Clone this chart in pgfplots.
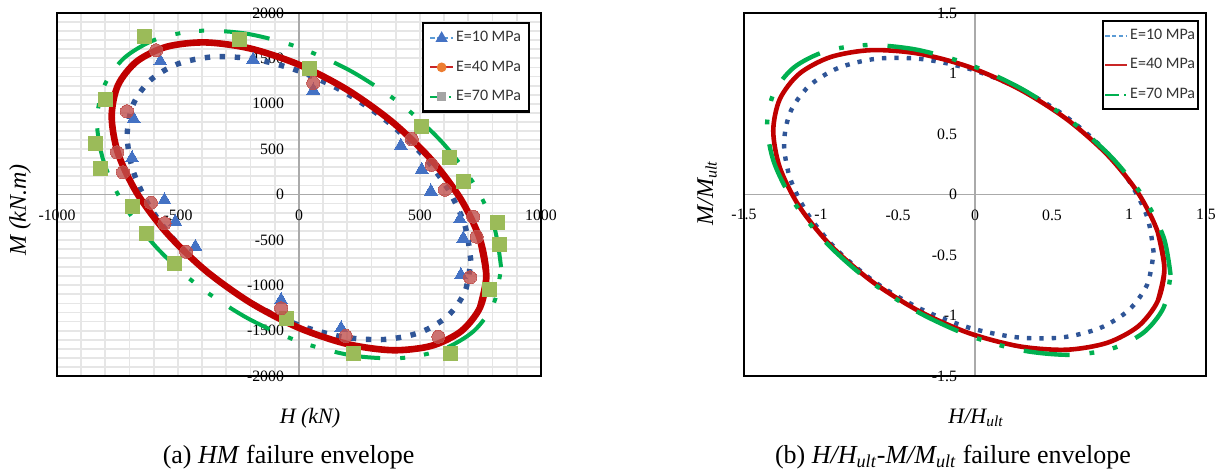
\documentclass[border=0pt]{standalone}
\usepackage{pgfplots}
\pgfplotsset{compat=1.18}
\usepackage{fontspec}
\setmainfont{Liberation Serif}
\newfontfamily\legfont{Carlito}

\definecolor{curveblue}{RGB}{47,85,151}
\definecolor{curvered}{RGB}{192,0,0}
\definecolor{curvegreen}{RGB}{0,176,80}
\definecolor{triblue}{RGB}{68,114,196}
\definecolor{dotred}{RGB}{192,80,77}
\definecolor{sqgreen}{RGB}{155,187,89}
\definecolor{legblue}{RGB}{91,155,213}
\definecolor{legorange}{RGB}{237,125,49}
\definecolor{leggrey}{RGB}{165,165,165}
\definecolor{zeroaxis}{RGB}{170,170,170}
\definecolor{gridgrey}{RGB}{230,230,230}

\pgfplotsset{
  envelope/.style={
    scale only axis,
    axis lines=middle,
    every inner x axis line/.style={-},
    every inner y axis line/.style={-},
    axis line style={draw=zeroaxis, line width=0.8pt},
    major tick length=0pt, minor tick length=0pt,
    hide obscured x ticks=false, hide obscured y ticks=false,
    tick label style={font=\fontsize{7.9}{9}\selectfont, text=black},
    /pgf/number format/assume math mode=true,
    /pgf/number format/1000 sep={},
    xticklabel style={yshift=-4pt},
    yticklabel style={xshift=-4pt},
    legend cell align=left,
    extra description/.code={\draw[black, line width=1.3pt] (0,0) rectangle (1,1);},
  },
  envlegend/.style={
    legend style={draw=black, line width=1.2pt, fill=white,
      font=\legfont\fontsize{8}{9.6}\selectfont, text=black!80,
      row sep=6pt, inner ysep=3pt, nodes={inner sep=1pt}, cells={anchor=west}},
  },
}

\begin{document}
\begin{tikzpicture}
\path[use as bounding box] (0,0) rectangle (611pt,236pt);

% ---------------- (a) H-M envelope ----------------
\begin{axis}[envelope, envlegend,
  at={(28.5pt,48pt)}, anchor=south west, width=242pt, height=181.5pt,
  xmin=-1000, xmax=1000, ymin=-2000, ymax=2000,
  xtick={-1000,-500,...,1000}, ytick={-2000,-1500,...,2000},
  minor x tick num=4, minor y tick num=4,
  grid=both, grid style={gridgrey, line width=0.9pt},
  minor grid style={gridgrey, line width=0.9pt},
  legend style={at={(0.754,0.975)}, anchor=north west, inner xsep=3pt},
]
% legend
\addlegendimage{legend image code/.code={
  \draw[legblue, line width=1pt, dash pattern=on 2.2pt off 1.2pt] (0pt,0pt) -- (11.5pt,0pt);
  \fill[triblue] (5.75pt,2.2pt) -- (3.7pt,-1.4pt) -- (7.8pt,-1.4pt) -- cycle;}}
\addlegendentry{E=10 MPa}
\addlegendimage{legend image code/.code={
  \draw[curvered!85!white, line width=1pt] (0pt,0pt) -- (11.5pt,0pt);
  \fill[legorange] (5.75pt,0pt) circle (1.8pt);}}
\addlegendentry{E=40 MPa}
\addlegendimage{legend image code/.code={
  \draw[curvegreen, line width=1pt] (0pt,0pt) -- (4pt,0pt);
  \draw[curvegreen, line width=1pt] (9.5pt,0pt) -- (10.5pt,0pt);
  \fill[leggrey] (4pt,-1.7pt) rectangle (7.4pt,1.7pt);}}
\addlegendentry{E=70 MPa}

% measured points, E = 10 MPa
\addplot[only marks, triblue, mark=triangle*, mark size=3.7pt,
  mark options={draw=triblue, fill=triblue, line width=0pt}, forget plot] coordinates {
  (-573,1468) (-190,1486) (59,1148) (-683,832) (-690,402)
  (-556,-61) (-511,-300) (-428,-575) (-74,-1163) (174,-1474)
  (421,538) (507,273) (545,35) (665,-273) (679,-483) (669,-887)
};
% measured points, E = 70 MPa
\addplot[only marks, sqgreen, mark=square*, mark size=3.5pt,
  mark options={draw=sqgreen, fill=sqgreen, line width=0pt}, forget plot] coordinates {
  (-639,1743) (-244,1706) (45,1394) (-800,1052) (-842,560) (-821,292)
  (-690,-134) (-631,-428) (-515,-758) (-51,-1364) (224,-1750)
  (507,751) (620,413) (679,145) (821,-310) (830,-556) (789,-1052) (624,-1750)
};
% measured points, E = 40 MPa
\addplot[only marks, dotred, mark=*, mark size=3.3pt,
  mark options={draw=dotred, fill=dotred, line width=0pt, opacity=0.8}, forget plot] coordinates {
  (-590,1589) (59,1229) (-711,917) (-752,465) (-727,245)
  (-612,-90) (-556,-317) (-466,-630) (-74,-1254) (193,-1559)
  (466,611) (548,328) (603,53) (720,-244) (734,-465) (707,-912) (576,-1567)
};

% fitted envelopes
\addplot[curveblue, smooth, line width=2.7pt, dash pattern=on 2.7pt off 4.8pt, forget plot] coordinates {
  (710,-730) (686,-344) (615,63) (502,462) (355,827) (184,1134) (0,1360)
  (-184,1491) (-355,1517) (-502,1438) (-615,1258) (-686,989) (-710,650)
  (-686,264) (-615,-143) (-502,-542) (-355,-907) (-184,-1214) (0,-1440)
  (184,-1571) (355,-1597) (502,-1518) (615,-1338) (686,-1069) (710,-730)
};
\addplot[curvered, smooth, line width=3.3pt, line join=round, forget plot] coordinates {
  (748,-1245) (774,-900) (748,-495) (670,-57) (547,383) (387,796) (200,1153)
  (0,1430) (-200,1608) (-387,1676) (-547,1628) (-670,1467) (-748,1205)
  (-774,860) (-748,455) (-670,17) (-547,-423) (-387,-836) (-200,-1193)
  (0,-1470) (200,-1648) (387,-1716) (547,-1668) (670,-1507) (748,-1245)
  (774,-900) (748,-495)
};
\addplot[curvegreen, smooth, line width=2pt,
  dash pattern=on 23pt off 10pt on 2.5pt off 9.5pt on 2.5pt off 10pt, forget plot] coordinates {
  (835,-800) (806,-353) (723,117) (590,580) (418,1003) (216,1358) (0,1620)
  (-216,1772) (-418,1803) (-590,1711) (-723,1503) (-806,1192) (-835,800)
  (-806,353) (-723,-117) (-590,-580) (-418,-1003) (-216,-1358) (0,-1620)
  (216,-1772) (418,-1803) (590,-1711) (723,-1503) (806,-1192) (835,-800)
};
\end{axis}

% ---------------- (b) normalised envelope ----------------
\begin{axis}[envelope, envlegend,
  at={(372pt,48pt)}, anchor=south west, width=231pt, height=181.5pt,
  xmin=-1.5, xmax=1.5, ymin=-1.5, ymax=1.5,
  xtick={-1.5,-1,...,1.5}, ytick={-1.5,-1,...,1.5},
  yticklabel style={xshift=-1.5pt},
  legend style={at={(0.775,0.981)}, anchor=north west, inner xsep=0.5pt},
]
\addlegendimage{legend image code/.code={
  \draw[legblue, line width=1pt, dash pattern=on 2.2pt off 1.2pt] (0pt,0pt) -- (11pt,0pt);}}
\addlegendentry{E=10 MPa}
\addlegendimage{legend image code/.code={
  \draw[curvered!85!white, line width=1pt] (0pt,0pt) -- (11pt,0pt);}}
\addlegendentry{E=40 MPa}
\addlegendimage{legend image code/.code={
  \draw[curvegreen, line width=1pt] (0pt,0pt) -- (7pt,0pt);
  \draw[curvegreen, line width=1pt] (9.5pt,0pt) -- (10.5pt,0pt);}}
\addlegendentry{E=70 MPa}

\addplot[curveblue, smooth, line width=2.2pt, dash pattern=on 2.2pt off 4pt, forget plot] coordinates {
  (1.16,-0.48) (1.119,-0.188) (0.999,0.115) (0.809,0.408) (0.56,0.672)
  (0.271,0.887) (-0.04,1.04) (-0.351,1.120) (-0.64,1.122) (-0.889,1.045)
  (-1.079,0.895) (-1.199,0.682) (-1.24,0.42) (-1.199,0.128) (-1.079,-0.175)
  (-0.889,-0.468) (-0.64,-0.732) (-0.351,-0.947) (-0.04,-1.10) (0.271,-1.180)
  (0.56,-1.182) (0.809,-1.105) (0.999,-0.955) (1.119,-0.742) (1.16,-0.48)
};
\addplot[curvered, smooth, line width=2.3pt, line join=round, forget plot] coordinates {
  (1.187,-0.880) (1.23,-0.615) (1.187,-0.311) (1.060,0.011) (0.858,0.330)
  (0.595,0.623) (0.289,0.870) (-0.04,1.055) (-0.369,1.165) (-0.675,1.193)
  (-0.938,1.136) (-1.140,0.999) (-1.267,0.790) (-1.31,0.525) (-1.267,0.221)
  (-1.140,-0.101) (-0.938,-0.420) (-0.675,-0.713) (-0.369,-0.960) (-0.04,-1.145)
  (0.289,-1.255) (0.595,-1.283) (0.858,-1.226) (1.060,-1.089) (1.187,-0.880)
  (1.23,-0.615) (1.187,-0.311)
};
\addplot[curvegreen, smooth, line width=2.2pt,
  dash pattern=on 23pt off 10pt on 2.4pt off 9.5pt on 2.4pt off 10pt, forget plot] coordinates {
  (1.27,-0.665) (1.225,-0.354) (1.094,-0.022) (0.886,0.309) (0.615,0.615)
  (0.299,0.876) (-0.04,1.075) (-0.379,1.197) (-0.695,1.235) (-0.966,1.185)
  (-1.174,1.052) (-1.305,0.844) (-1.35,0.575) (-1.305,0.264) (-1.174,-0.068)
  (-0.966,-0.399) (-0.695,-0.705) (-0.379,-0.966) (-0.04,-1.165) (0.299,-1.287)
  (0.615,-1.325) (0.886,-1.275) (1.094,-1.142) (1.225,-0.934) (1.27,-0.665)
};
\end{axis}

% axis titles and captions
\node[rotate=90, font=\fontsize{12}{14}\selectfont\itshape] at (10pt,131pt) {M (kN.m)};
\node[font=\fontsize{11}{13}\selectfont\itshape] at (155pt,27pt) {H (kN)};
\node[rotate=90, font=\fontsize{12}{14}\selectfont\itshape] at (353.5pt,139.5pt) {M/M\textsubscript{ult}};
\node[font=\fontsize{11}{13}\selectfont\itshape] at (488pt,27pt) {H/H\textsubscript{ult}};
\node[font=\fontsize{13}{15}\selectfont] at (144.3pt,7.5pt) {(a) \textit{HM} failure envelope};
\node[font=\fontsize{13}{15}\selectfont] at (476.5pt,7.5pt) {(b) \textit{H/H\textsubscript{ult}-M/M\textsubscript{ult}} failure envelope};
\end{tikzpicture}
\end{document}
